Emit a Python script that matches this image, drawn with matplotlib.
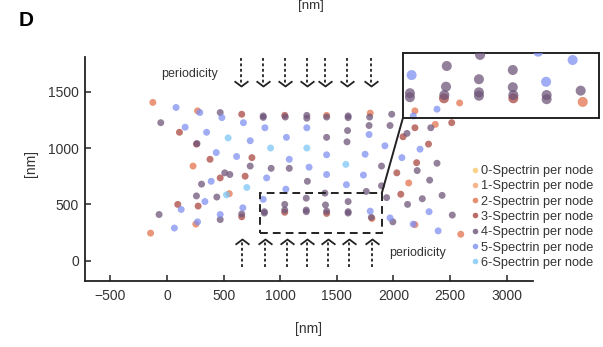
import matplotlib
matplotlib.use("Agg")
import matplotlib.pyplot as plt
from matplotlib.lines import Line2D
from matplotlib.patches import Rectangle, ConnectionPatch
from matplotlib.path import Path

plt.rcParams['font.family'] = ['Liberation Sans', 'DejaVu Sans']

# ---- data -------------------------------------------------------------
labels = [f"{k}-Spectrin per node" for k in range(7)]
colors = ['#f8c96c', '#f5a36f', '#e2714c', '#a9463f', '#6d5478', '#7f8ff0', '#7cc6f6']

# node positions [nm] and number of spectrin filaments per node
node_x = [-125, 80, -55, 270, 290, 470, 485, 660, 675, 850, 850,
          160, 110, 350, 540, 735, 865, 260, 265, 435, 615, 750, 915,
          380, 230, 510, 555, 470, 735, 920, 690, 880, 390, 305, 705,
          260, 550, 525, 440, 335, 95, 125, 275, -70, 470, 470, 270, 255,
          670, 660, 660, 65, -145,
          850, 860, 860, 1040, 1040, 1040, 1230, 1230, 1230, 1400, 1410, 1410,
          1395, 1600, 1600, 1600, 1795, 1810, 1805, 1760,
          1040, 1045, 1055, 1235, 1235, 1235, 1410, 1410, 1410, 1600, 1600,
          1595, 1590, 1795, 1790, 1785, 1785, 1985, 1970,
          1235, 1410, 1580, 1750, 1925, 1080, 1080, 1255, 1410, 1240, 1050,
          1585, 1735, 1895, 1895,
          2085, 2120, 2190, 2190, 2175, 2385, 2585, 2330, 2370, 2515, 2310,
          2235, 2075, 2205, 2210, 2385, 2030, 2135, 2320, 2065, 1940, 2125,
          2255, 2430, 2315, 2520, 2190, 2175, 2395, 2595, 1970, 1995]
node_y = [1405, 1360, 1225, 1330, 1315, 1315, 1270, 1300, 1225, 1285, 1272,
          1185, 1140, 1140, 1090, 1065, 1180, 1035, 1040, 960, 925, 915, 1000,
          900, 840, 780, 765, 735, 840, 820, 750, 735, 705, 680, 650,
          575, 595, 585, 565, 525, 500, 455, 485, 410, 410, 365, 345, 325,
          470, 390, 415, 290, 245,
          545, 435, 423, 500, 430, 450, 555, 450, 435, 495, 420, 440,
          600, 525, 435, 423, 440, 375, 385, 615,
          1290, 1275, 1095, 1290, 1265, 1180, 1290, 1275, 1095, 1285, 1270,
          1155, 1055, 1310, 1275, 1200, 1120, 1300, 1200,
          1000, 940, 855, 945, 1020, 900, 820, 830, 765, 705, 635,
          675, 760, 840, 665,
          1100, 1130, 1180, 1330, 1285, 1345, 1400, 1180, 1210, 1225, 1035,
          990, 915, 870, 800, 865, 780, 690, 715, 590, 560, 500,
          550, 580, 435, 405, 320, 325, 265, 235, 380, 345]
node_n = [2, 5, 4, 2, 5, 4, 5, 3, 5, 4, 4,
          5, 3, 5, 6, 5, 5, 3, 4, 5, 5, 3, 6,
          3, 2, 4, 4, 3, 4, 4, 3, 5, 5, 4, 6,
          4, 2, 6, 4, 5, 3, 5, 3, 4, 5, 4, 5, 2,
          5, 3, 4, 5, 2,
          5, 4, 4, 4, 3, 4, 4, 4, 4, 4, 3, 4,
          4, 4, 4, 4, 5, 2, 4, 4,
          3, 4, 5, 4, 4, 5, 2, 4, 4, 4, 4,
          4, 4, 2, 4, 4, 5, 4, 4,
          6, 5, 6, 5, 5, 5, 4, 5, 5, 4, 5,
          5, 5, 4, 4,
          3, 4, 3, 2, 5, 5, 2, 4, 2, 3, 3,
          5, 5, 3, 4, 4, 3, 2, 4, 3, 4, 4,
          4, 4, 5, 4, 2, 5, 5, 2, 5, 4]

# magnified region
zoom_x = [1241, 1552, 1736, 1063, 875, 1235, 1416, 1594, 1059, 1235, 1235,
          1416, 866, 866, 1048, 1050, 1419, 1419, 1597, 1597, 1779, 1790]
zoom_y = [656, 674, 628, 595, 545, 522, 573, 508, 481, 450, 431,
          478, 445, 423, 417, 435, 417, 435, 435, 412, 459, 397]
zoom_n = [4, 5, 5, 4, 5, 4, 4, 5, 4, 4, 4,
          4, 4, 4, 3, 4, 3, 4, 4, 4, 4, 2]

# periodicity markers
arrows_top_x = [655, 850, 1040, 1235, 1395, 1590, 1800]
arrows_bottom_x = [665, 865, 1060, 1235, 1420, 1610, 1810]

x_ticks = [-500, 0, 500, 1000, 1500, 2000, 2500, 3000]
y_ticks = [0, 500, 1000, 1500]
zoom_box = (822, 243, 1897, 598)  # x0, y0, x1, y1

# ---- figure -------------------------------------------------------------
W, H = 603, 347
fig = plt.figure(figsize=(W / 100, H / 100), dpi=100)
ax = fig.add_axes([84.7 / W, 1 - 281 / H, (533 - 84.7) / W, (281 - 57) / H])
ax.set_xlim(-727, 3233)
ax.set_ylim(-180, 1808)

for s in ('top', 'right'):
    ax.spines[s].set_visible(False)
for s in ('left', 'bottom'):
    ax.spines[s].set_linewidth(1.3)
    ax.spines[s].set_color('#222222')
ax.set_xticks(x_ticks)
ax.set_yticks(y_ticks)
ax.tick_params(direction='in', length=4, width=1.1, colors='#222222',
               labelsize=10, labelcolor='#333333')
ax.tick_params(axis='x', pad=6)
ax.tick_params(axis='y', pad=4)

ax.set_xlabel('[nm]', fontsize=10, color='#333333')
ax.xaxis.set_label_coords(0.5, -0.185)
ax.set_ylabel('[nm]', fontsize=10, color='#333333')
ax.yaxis.set_label_coords(-0.104, 0.525)


def scatter_groups(a, xs, ys, ns, size):
    for k in range(7):
        px = [x for x, n in zip(xs, ns) if n == k]
        py = [y for y, n in zip(ys, ns) if n == k]
        if px:
            a.scatter(px, py, s=size, color=colors[k], alpha=0.74,
                      edgecolors='none', zorder=3)


scatter_groups(ax, node_x, node_y, node_n, 25)

# periodicity arrows
chevron_down = Path([(-1, 0.75), (0, 0), (1, 0.75)],
                    [Path.MOVETO, Path.LINETO, Path.LINETO])
chevron_up = Path([(-1, -0.75), (0, 0), (1, -0.75)],
                  [Path.MOVETO, Path.LINETO, Path.LINETO])
for x in arrows_top_x:
    ax.plot([x, x], [1800, 1560], color='#222222', lw=1.3,
            ls=(0, (1.6, 1.4)), clip_on=False)
    ax.plot([x], [1550], marker=chevron_down, ms=10, mfc='none',
            mec='#222222', mew=1.3, clip_on=False)
for x in arrows_bottom_x:
    ax.plot([x, x], [-60, 183], color='#222222', lw=1.3,
            ls=(0, (1.6, 1.4)), clip_on=False)
    ax.plot([x], [193], marker=chevron_up, ms=10, mfc='none',
            mec='#222222', mew=1.3, clip_on=False)

ax.text(-50, 1660, 'periodicity', fontsize=9, color='#333333',
        ha='left', va='center')
ax.text(1960, 65, 'periodicity', fontsize=9, color='#333333',
        ha='left', va='center')

# dashed selection box
x0, y0, x1, y1 = zoom_box
ax.add_patch(Rectangle((x0, y0), x1 - x0, y1 - y0, fill=False,
                       ls=(0, (4, 2.6)), lw=1.4, ec='#222222', zorder=4))

# magnified inset
axin = fig.add_axes([403 / W, 1 - 117.7 / H, 196 / W, 64.4 / H])
axin.set_xlim(829, 1877)
axin.set_ylim(310, 665)
axin.patch.set_alpha(0)
axin.set_xticks([])
axin.set_yticks([])
for s in axin.spines.values():
    s.set_linewidth(1.4)
    s.set_color('#222222')
scatter_groups(axin, zoom_x, zoom_y, zoom_n, 52)

con = ConnectionPatch(xyA=(x1, y1), coordsA=ax.transData,
                      xyB=(0, 0), coordsB=axin.transAxes,
                      color='#222222', lw=1.4)
fig.add_artist(con)

# legend
handles = [Line2D([], [], ls='none', marker='o', ms=4, color=c, alpha=0.8,
                  mec='none') for c in colors]
fig.legend(handles, labels, loc='upper left',
           bbox_to_anchor=(471 / W, 1 - 165 / H), frameon=False,
           fontsize=9.2, handlelength=0.55, handletextpad=0.2,
           labelspacing=0.26, borderpad=0, borderaxespad=0,
           labelcolor='#333333')

# panel letter and axis label of the panel above
fig.text(19 / W, 1 - 20 / H, 'D', fontsize=15, fontweight='bold',
         ha='left', va='center')
fig.text(311 / W, 1.0, '[nm]', fontsize=9.5, color='#333333',
         ha='center', va='top')

fig.savefig('out.png', dpi=100)
